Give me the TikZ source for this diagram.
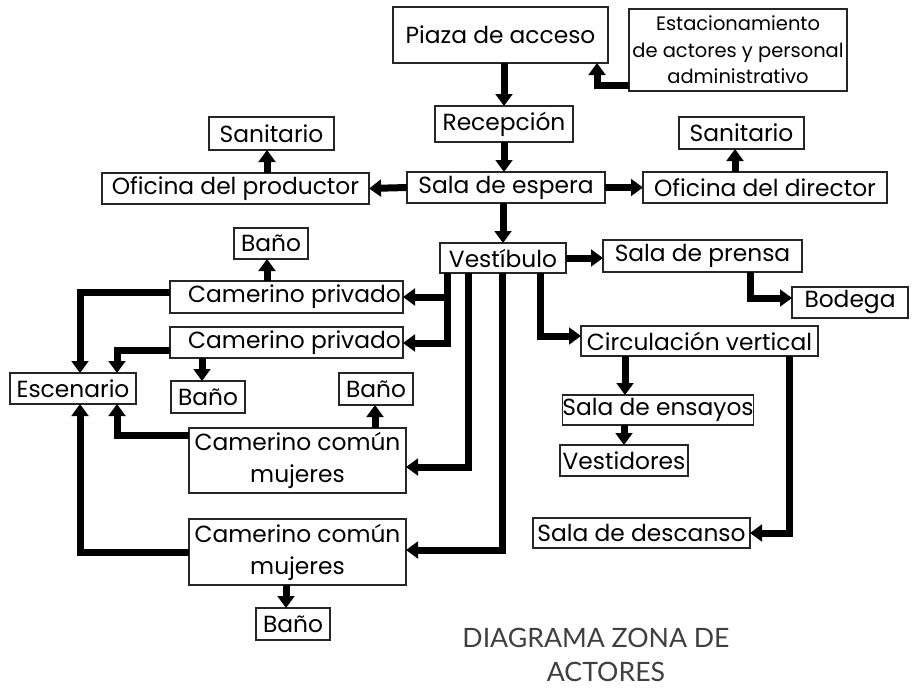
\documentclass[tikz,border=0pt]{standalone}
\usepackage{fontspec}
\setmainfont{Poppins}
\newfontfamily\titlefont{Lato}
\usetikzlibrary{arrows.meta}
\tikzset{
  box/.style={draw=black!85, line width=0.8pt, inner sep=0pt, outer sep=0pt,
    align=center, font=\fontsize{17.5}{24}\selectfont},
  smalltext/.style={font=\fontsize{14.6}{20}\selectfont},
  conn/.style={line width=5.25pt, draw=black, line join=miter},
  arr/.style={conn, -{Triangle[length=9pt,width=12.5pt]}},
  titletext/.style={font=\titlefont\fontsize{20}{24}\selectfont, text=black!75, inner sep=0pt}
}
\newcommand\mybox[7][]{%
  \pgfmathsetmacro\bcx{(#3+#5)/2}%
  \pgfmathsetmacro\bcy{(#4+#6)/2}%
  \pgfmathsetmacro\bw{(#5-#3)*0.75}%
  \pgfmathsetmacro\bh{(#6-#4)*0.75}%
  \node[box,minimum width=\bw pt,minimum height=\bh pt,#1] (#2) at (\bcx,\bcy) {#7};}
\begin{document}
\begin{tikzpicture}[x=0.75pt,y=-0.75pt]
\fill[white] (0,0) rectangle (912,689);
\useasboundingbox (0,0) rectangle (912,689);
% boxes
\mybox{piaza}{393}{7}{608}{63}{Piaza de acceso}
\mybox[smalltext]{estac}{629}{9}{847}{91}{Estacionamiento\\de actores y personal\\administrativo}
\mybox{recep}{435}{106}{573}{142}{Recepción}
\mybox{sala}{407}{172}{605}{203}{Sala de espera}
\mybox{ofprod}{102}{173}{369}{204}{Oficina del productor}
\mybox{san1}{209}{117}{334}{150}{Sanitario}
\mybox{ofdir}{643}{172}{887}{203}{Oficina del director}
\mybox{san2}{679}{117}{804}{149}{Sanitario}
\mybox{vest}{440}{243}{566}{273}{Vestíbulo}
\mybox{prensa}{603}{240}{802}{272}{Sala de prensa}
\mybox{bodega}{792}{287}{908}{318}{Bodega}
\mybox{circ}{581}{326}{818}{356}{Circulación vertical}
\mybox{ensayos}{563}{395}{753}{425}{Sala de ensayos}
\mybox{vestid}{560}{445}{688}{476}{Vestidores}
\mybox{descanso}{533}{518}{750}{548}{Sala de descanso}
\mybox{bano1}{234}{228}{308}{259}{Baño}
\mybox{cp1}{170}{281}{403}{313}{\hspace*{12pt}Camerino privado}
\mybox{cp2}{170}{327}{403}{358}{\hspace*{12pt}Camerino privado}
\mybox{esc}{10}{373}{136}{404}{Escenario}
\mybox{bano2}{171}{381}{245}{413}{Baño}
\mybox{bano3}{339}{373}{413}{405}{Baño}
\mybox{cc1}{189}{428}{406}{493}{Camerino común\\mujeres}
\mybox{cc2}{189}{519}{406}{585}{Camerino común\\mujeres}
\mybox{bano4}{256}{608}{330}{640}{Baño}
% connectors
\draw[arr] (piaza.south -| recep.north) -- (recep.north);
\draw[arr] (estac.west |- 0,85) -| (597,0 |- piaza.south);
\draw[arr] (recep.south) -- (recep.south |- sala.north);
\draw[arr] (sala.west) -- (ofprod.east);
\draw[arr] (sala.east) -- (ofdir.west);
\draw[arr] (267,0 |- ofprod.north) -- (267,0 |- san1.south);
\draw[arr] (735,0 |- ofdir.north) -- (735,0 |- san2.south);
\draw[arr] (sala.south -| vest.north) -- (vest.north);
\draw[arr] (vest.east) -- (vest.east -| prensa.west);
\draw[arr] (750,0 |- prensa.south) |- (bodega.west |- 0,298);
\draw[arr] (540,0 |- vest.south) |- (circ.west |- 0,336);
\draw[arr] (625,0 |- circ.south) -- (625,0 |- ensayos.north);
\draw[arr] (vestid.north |- ensayos.south) -- (vestid.north);
\draw[arr] (789,0 |- circ.south) |- (descanso.east);
\draw[arr] (447,0 |- vest.south) |- (cp2.east |- 0,343);
\draw[arr] (447,0 |- cp1.east) -- (cp1.east);
\draw[arr] (468,0 |- vest.south) |- (cc1.east |- 0,467);
\draw[arr] (502,0 |- vest.south) |- (cc2.east |- 0,550);
\draw[arr] (cp1.west |- 0,292) -| (80,0 |- esc.north);
\draw[arr] (cp2.west |- 0,350) -| (117,0 |- esc.north);
\draw[arr] (cc1.west |- 0,435) -| (117,0 |- esc.south);
\draw[arr] (cc2.west |- 0,552) -| (80,0 |- esc.south);
\draw[arr] (267,0 |- cp1.north) -- (267,0 |- bano1.south);
\draw[arr] (202,0 |- cp2.south) -- (202,0 |- bano2.north);
\draw[arr] (375,0 |- cc1.north) -- (375,0 |- bano3.south);
\draw[arr] (286,0 |- cc2.south) -- (286,0 |- bano4.north);
% title
\node[titletext] (t1) at (596,638) {DIAGRAMA ZONA DE};
\node[titletext] (t2) at (606,672) {ACTORES};
\end{tikzpicture}
\end{document}
